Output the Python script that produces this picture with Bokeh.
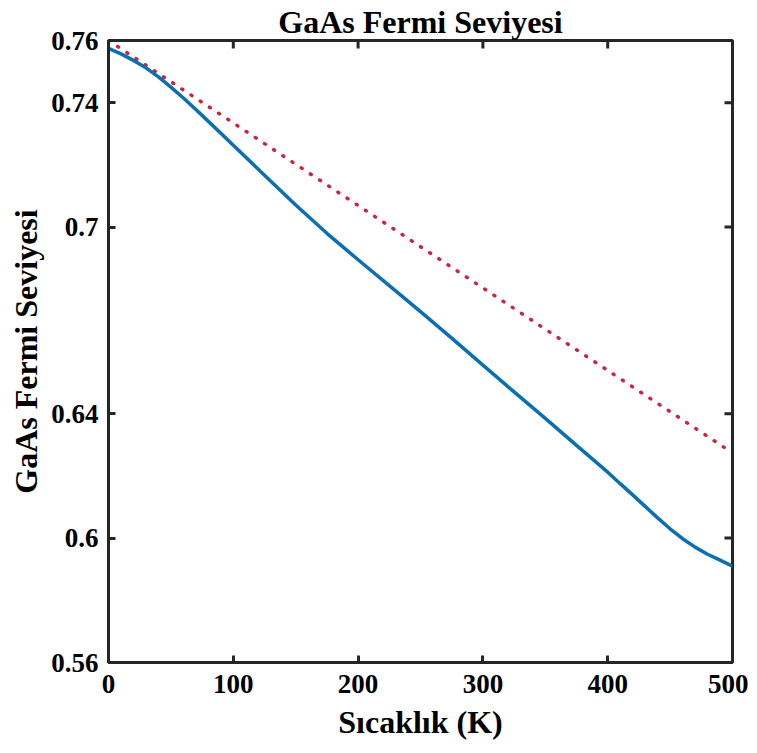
from bokeh.plotting import figure
from bokeh.models import Range1d, FixedTicker
from bokeh.embed import file_html
from bokeh.resources import INLINE

# Data
T = [0, 10, 20, 30, 40, 50, 60, 70, 80, 90, 100, 125, 150, 175, 200, 225, 250,
     275, 300, 325, 350, 375, 400, 410, 420, 430, 440, 450, 460, 470, 480, 490, 500]
E_fermi = [0.7575, 0.7557, 0.7536, 0.7512, 0.7483, 0.7450, 0.7415, 0.7378, 0.7340,
           0.7302, 0.7263, 0.7167, 0.7071, 0.6980, 0.6895, 0.6812, 0.6728, 0.6643,
           0.6556, 0.6470, 0.6385, 0.6298, 0.6212, 0.6175, 0.6139, 0.6102, 0.6065,
           0.6030, 0.5998, 0.5971, 0.5948, 0.5929, 0.5910]
T_ref = [0, 500]
E_ref = [0.7600, 0.6274]

x_ticks = [0, 100, 200, 300, 400, 500]
y_ticks = [0.56, 0.6, 0.64, 0.7, 0.74, 0.76]
y_tick_labels = ["0.56", "0.6", "0.64", "0.7", "0.74", "0.76"]

FONT = "Liberation Serif"
AX = "#262626"
NAN = float("nan")

X0, X1 = 0, 500
Y0, Y1 = 0.56, 0.76
W, H = 748, 748
BL, BR, BT, BB = 108, 16, 39, 86
TICK_PX = 8

p = figure(width=W, height=H, output_backend="svg", toolbar_location=None,
           x_range=Range1d(X0, X1), y_range=Range1d(Y0, Y1),
           min_border_left=BL, min_border_right=BR, min_border_top=BT,
           min_border_bottom=BB, outline_line_color=AX, outline_line_width=3,
           background_fill_color="white", border_fill_color="white")

p.title.text = "GaAs Fermi Seviyesi"
p.title.text_font = FONT
p.title.text_font_size = "32px"
p.title.text_font_style = "bold"
p.title.text_color = "black"
p.title.align = "center"
p.title.offset = 0
p.title.standoff = 2

p.grid.visible = False

p.line(T_ref, E_ref, line_color="#d0213e", line_width=3.5,
       line_dash="1 10", line_cap="round")
p.line(T, E_fermi, line_color="#0a6fb5", line_width=3.5)

# mirrored inward ticks on the top and right frame edges (one broken line each)
dy = TICK_PX * (Y1 - Y0) / (H - BT - BB)
dx = TICK_PX * (X1 - X0) / (W - BL - BR)
top_x, top_y = [], []
for t in x_ticks:
    top_x += [t, t, NAN]
    top_y += [Y1, Y1 - dy, NAN]
right_x, right_y = [], []
for v in y_ticks:
    right_x += [X1, X1 - dx, NAN]
    right_y += [v, v, NAN]
p.line(top_x, top_y, line_color=AX, line_width=3)
p.line(right_x, right_y, line_color=AX, line_width=3)

ylab = {v: s for v, s in zip(y_ticks, y_tick_labels)}

for ax in (p.xaxis[0], p.yaxis[0]):
    ax.axis_line_color = AX
    ax.axis_line_width = 3
    ax.major_tick_line_color = AX
    ax.major_tick_line_width = 3
    ax.major_tick_in = 7
    ax.major_tick_out = 0
    ax.minor_tick_line_color = None
    ax.major_label_text_font = FONT
    ax.major_label_text_font_size = "27px"
    ax.major_label_text_font_style = "bold"
    ax.major_label_text_color = "black"
    ax.axis_label_text_font = FONT
    ax.axis_label_text_font_size = "32px"
    ax.axis_label_text_font_style = "bold"
    ax.axis_label_text_color = "black"

p.xaxis[0].ticker = FixedTicker(ticks=x_ticks)
p.yaxis[0].ticker = FixedTicker(ticks=y_ticks)
p.yaxis[0].major_label_overrides = ylab
p.xaxis[0].axis_label = "Sıcaklık (K)"
p.yaxis[0].axis_label = "GaAs Fermi Seviyesi"
p.xaxis[0].major_label_standoff = 12
p.yaxis[0].major_label_standoff = 10
p.xaxis[0].axis_label_standoff = 8
p.yaxis[0].axis_label_standoff = 4

open("out.html", "w").write(file_html(p, INLINE))
